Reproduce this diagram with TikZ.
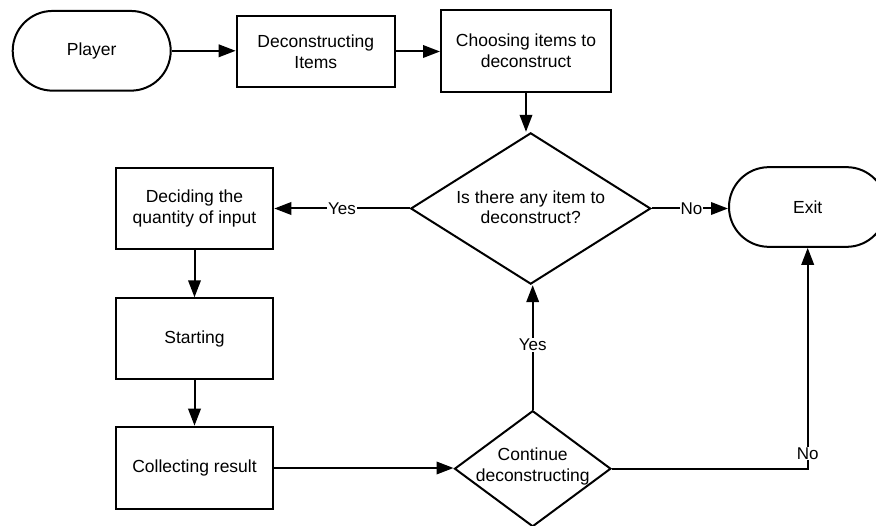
\documentclass[tikz,border=0pt]{standalone}
\usepackage{fontspec}
\setmainfont{Liberation Sans}
\usetikzlibrary{shapes.geometric,shapes.misc,arrows.meta}

\tikzset{
  base/.style={draw=black, line width=2pt, fill=white, inner sep=0pt,
    align=center, font=\fontsize{17.5}{20.5}\selectfont},
  stepbox/.style={base, rectangle},
  terminal/.style={base, rounded rectangle},
  decision/.style={base, diamond},
  caption/.style={align=center, inner sep=0pt, font=\fontsize{17.5}{20.5}\selectfont},
  flow/.style={line width=2pt, -{Triangle[length=17pt,width=12.5pt]}},
  tag/.style={fill=white, inner sep=0.8pt, font=\fontsize{17}{19}\selectfont},
}

\begin{document}
\begin{tikzpicture}[x=1pt,y=-1pt]
  \useasboundingbox (0,0) rectangle (876,526);
  \clip (0,0) rectangle (876,526);

  % top row
  \node[terminal, minimum width=158pt, minimum height=79.7pt] (player) at (91.7,50.8) {Player};
  \node[stepbox, minimum width=158.3pt, minimum height=71.6pt] (deco) at (315.8,51.5) {Deconstructing\\Items};
  \node[stepbox, minimum width=170pt, minimum height=81.7pt] (choose) at (526,50.8) {Choosing items to\\deconstruct};

  % first decision and exit
  \node[decision, minimum width=240pt, minimum height=151.3pt] (d1) at (530.7,208.5) {};
  \node[caption] (d1txt) at (530.7,207) {Is there any item to\\deconstruct?};
  \node[terminal, minimum width=157.4pt, minimum height=79.7pt] (exit) at (807.7,207) {Exit};

  % left column
  \node[stepbox, minimum width=157.6pt, minimum height=81.3pt] (decide) at (194.5,208.3) {Deciding the\\quantity of input};
  \node[stepbox, minimum width=157.6pt, minimum height=81pt] (start) at (194.5,338.8) {Starting};
  \node[stepbox, minimum width=157.6pt, minimum height=82.6pt] (collect) at (194.5,468) {Collecting result};

  % second decision
  \node[decision, minimum width=156.4pt, minimum height=116pt] (d2) at (532.7,468.7) {};
  \node[caption] (d2txt) at (532.7,466.7) {Continue\\deconstructing};

  % connectors
  \draw[flow] (player.east) -- (deco.west |- player.east);
  \draw[flow] (deco.east) -- (choose.west |- deco.east);
  \draw[flow] (choose.south) -- (choose.south |- d1.north);
  \draw[flow] (d1.west) -- node[tag, pos=0.5] {Yes} (decide.east |- d1.west);
  \draw[flow] (d1.east) -- node[tag, pos=0.52] {No} (exit.west |- d1.east);
  \draw[flow] (decide.south) -- (start.north);
  \draw[flow] (start.south) -- (collect.north);
  \draw[flow] (collect.east) -- (d2.west |- collect.east);
  \draw[flow] (d2.north) -- node[tag, pos=0.52] {Yes} (d2.north |- d1.south);
  \draw[flow] (d2.east) -| node[tag, pos=0.535] {No} (exit.south);
\end{tikzpicture}
\end{document}
